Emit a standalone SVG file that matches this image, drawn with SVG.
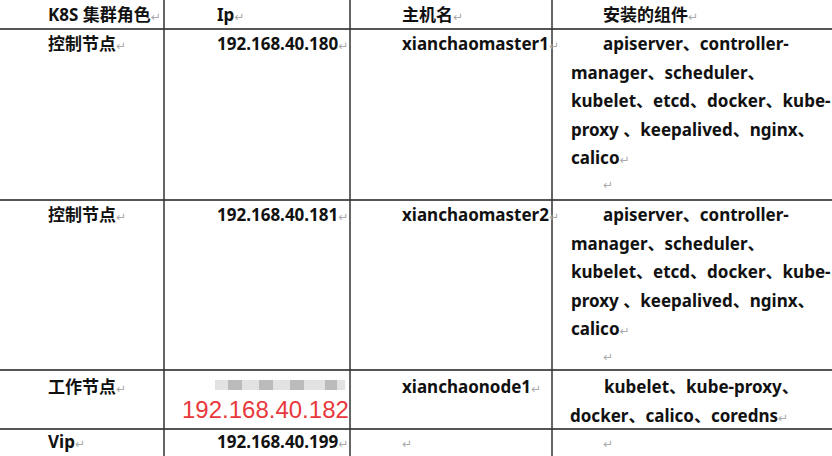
<svg xmlns="http://www.w3.org/2000/svg" width="832" height="456" viewBox="0 0 832 456">
<style>
.t{font-family:"Noto Sans","Noto Sans CJK SC",sans-serif;font-weight:bold;font-size:17px;fill:#111}
.r{font-family:"DejaVu Sans",sans-serif;font-weight:normal;font-size:12px;fill:#aaa}
.red{font-family:"Liberation Sans",Arial,sans-serif;font-size:24px;fill:#e8383d}
.h{stroke:#555;stroke-width:2}
.v{stroke:#333;stroke-width:1.5}
</style>
<rect width="832" height="456" fill="#fff"/>
<g id="grid">
<line class="h" x1="0" y1="29" x2="832" y2="29"/>
<line class="h" x1="0" y1="200" x2="832" y2="200"/>
<line class="h" x1="0" y1="370" x2="832" y2="370"/>
<line class="h" x1="0" y1="429" x2="832" y2="429"/>
<line class="v" x1="164" y1="0" x2="164" y2="456"/>
<line class="v" x1="350" y1="0" x2="350" y2="456"/>
<line class="v" x1="552" y1="0" x2="552" y2="456"/>
</g>
<g id="header">
<text class="t" x="48" y="21">K8S 集群角色<tspan class="r">↵</tspan></text>
<text class="t" x="217" y="21">Ip<tspan class="r">↵</tspan></text>
<text class="t" x="402" y="21">主机名<tspan class="r">↵</tspan></text>
<text class="t" x="603" y="21">安装的组件<tspan class="r">↵</tspan></text>
</g>
<g id="row1">
<text class="t" x="48" y="50">控制节点<tspan class="r">↵</tspan></text>
<text class="t" x="217" y="50">192.168.40.180<tspan class="r">↵</tspan></text>
<text class="t" x="402" y="50">xianchaomaster1<tspan class="r">↵</tspan></text>
<text class="t" x="603" y="50">apiserver、controller-</text>
<text class="t" x="571" y="78.5">manager、scheduler、</text>
<text class="t" x="571" y="107">kubelet、etcd、docker、kube-</text>
<text class="t" x="571" y="135.5">proxy 、keepalived、nginx、</text>
<text class="t" x="571" y="164">calico<tspan class="r">↵</tspan></text>
<text class="r" x="603" y="189">↵</text>
</g>
<g id="row2">
<text class="t" x="48" y="221">控制节点<tspan class="r">↵</tspan></text>
<text class="t" x="217" y="221">192.168.40.181<tspan class="r">↵</tspan></text>
<text class="t" x="402" y="221">xianchaomaster2<tspan class="r">↵</tspan></text>
<text class="t" x="603" y="221">apiserver、controller-</text>
<text class="t" x="571" y="249.5">manager、scheduler、</text>
<text class="t" x="571" y="278">kubelet、etcd、docker、kube-</text>
<text class="t" x="571" y="306.5">proxy 、keepalived、nginx、</text>
<text class="t" x="571" y="335">calico<tspan class="r">↵</tspan></text>
<text class="r" x="603" y="361">↵</text>
</g>
<g id="row3">
<text class="t" x="48" y="393">工作节点<tspan class="r">↵</tspan></text>
<g id="redacted" fill="#bbb">
<rect x="215" y="380" width="130" height="10" fill="#e2e2e2"/>
<rect x="228" y="380" width="14" height="10"/>
<rect x="259" y="380" width="14" height="10"/>
<rect x="290" y="380" width="14" height="10"/>
<rect x="325" y="380" width="12" height="10"/>
</g>
<text class="red" x="182" y="418">192.168.40.182</text>
<text class="t" x="402" y="393">xianchaonode1<tspan class="r">↵</tspan></text>
<text class="t" x="604" y="393">kubelet、kube-proxy、</text>
<text class="t" x="570" y="421.5">docker、calico、coredns<tspan class="r">↵</tspan></text>
</g>
<g id="row4">
<text class="t" x="48" y="448">Vip<tspan class="r">↵</tspan></text>
<text class="t" x="217" y="448">192.168.40.199<tspan class="r">↵</tspan></text>
<text class="r" x="402" y="448">↵</text>
<text class="r" x="603" y="448">↵</text>
</g>
</svg>
